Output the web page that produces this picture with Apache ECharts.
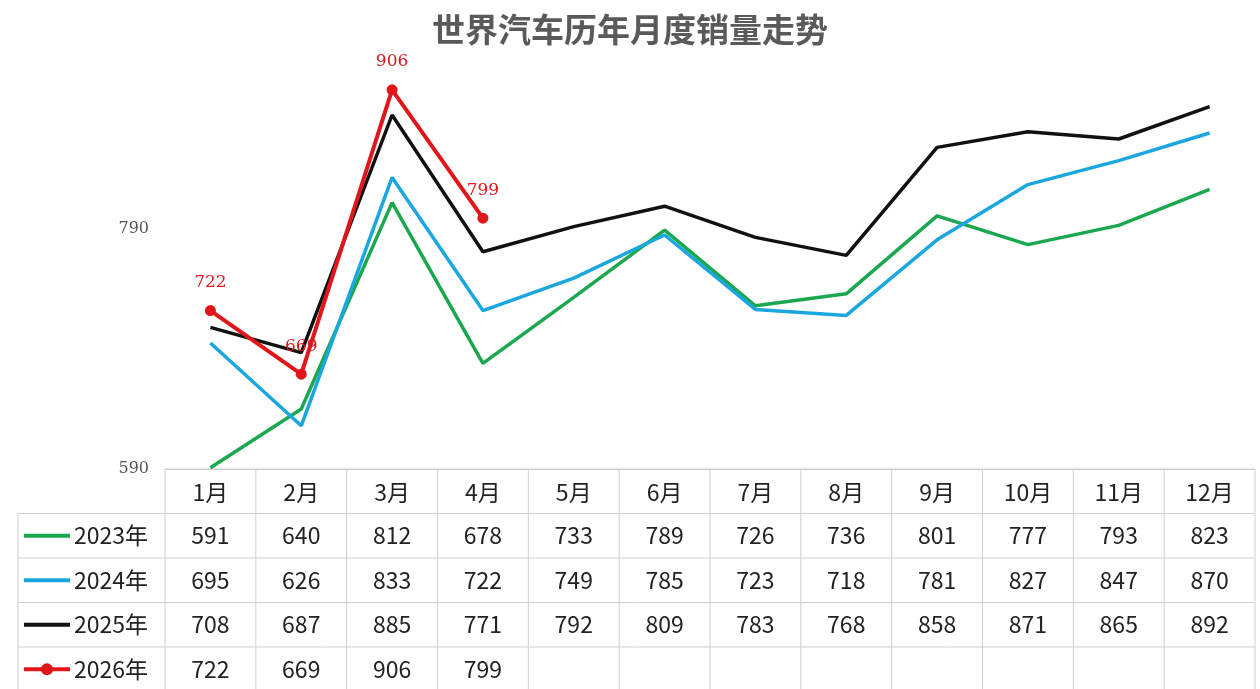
<!DOCTYPE html>
<html><head><meta charset="utf-8">
<script src="https://cdn.jsdelivr.net/npm/echarts@6/dist/echarts.min.js"></script>
<style>html,body{margin:0;background:#fff}#c{width:1260px;height:689px}</style>
</head><body><div id="c"></div>
<script>
var months = ['1月','2月','3月','4月','5月','6月','7月','8月','9月','10月','11月','12月'];
var s2023 = [591,640,812,678,733,789,726,736,801,777,793,823];
var s2024 = [695,626,833,722,749,785,723,718,781,827,847,870];
var s2025 = [708,687,885,771,792,809,783,768,858,871,865,892];
var s2026 = [722,669,906,799];
var names = ['2023年','2024年','2025年','2026年'];
var colors = ['#1aa84f','#1aa7e0','#111111','#e0161b'];

var chart = echarts.init(document.getElementById('c'));
var font = '"Noto Sans CJK SC", sans-serif';
var allData = [s2023, s2024, s2025, s2026];
var series = allData.map(function (d, i) {
    var red = i === 3;
    return {
        name: names[i], type: 'line', data: d,
        symbol: red ? 'circle' : 'none', symbolSize: 11,
        lineStyle: {width: red ? 4 : 3.5, color: colors[i]},
        itemStyle: {color: colors[i]},
        label: red ? {show: true, position: 'top', distance: 14, color: colors[i],
            fontFamily: 'DejaVu Serif', fontSize: 17} : {show: false},
        z: red ? 5 : 2
    };
});
var option = {
    animation: false,
    title: {text: '世界汽车历年月度销量走势', left: 'center', top: 8,
        textStyle: {fontFamily: font, fontSize: 33, fontWeight: 'bold', color: '#5a5a5a'}},
    grid: {left: 165, right: 5, top: 37, bottom: 220},
    xAxis: {type: 'category', data: months, boundaryGap: true,
        axisLine: {lineStyle: {color: '#ccc'}}, axisTick: {show: false},
        axisLabel: {color: '#222', fontSize: 23, fontFamily: font, margin: 12}},
    yAxis: {type: 'value', min: 590, max: 950, interval: 200,
        splitLine: {show: false}, axisLine: {show: false}, axisTick: {show: false},
        axisLabel: {color: '#555', fontFamily: 'DejaVu Serif', fontSize: 16, margin: 16,
            showMaxLabel: false}},
    series: series
};
chart.setOption(option);

// data table under the plot
var g = [];
var top0 = 469, rowH = 44.5, left0 = 18, right0 = 1255;
var colW = (right0 - 165) / 12;
for (var r = 0; r <= 5; r++) {
    var y = top0 + r * rowH;
    g.push({type: 'line', shape: {x1: r === 0 ? 165 : left0, y1: y, x2: right0, y2: y},
        style: {stroke: '#d0d0d0', lineWidth: 1}});
}
for (var c = 0; c <= 12; c++) {
    var x = 165 + c * colW;
    g.push({type: 'line', shape: {x1: x, y1: top0, x2: x, y2: top0 + 5 * rowH},
        style: {stroke: '#d0d0d0', lineWidth: 1}});
}
g.push({type: 'line', shape: {x1: left0, y1: top0 + rowH, x2: left0, y2: top0 + 5 * rowH},
    style: {stroke: '#d0d0d0', lineWidth: 1}});
allData.forEach(function (d, i) {
    var cy = top0 + (i + 1.5) * rowH;
    g.push({type: 'line', shape: {x1: 24, y1: cy, x2: 70, y2: cy},
        style: {stroke: colors[i], lineWidth: 4}});
    if (i === 3) g.push({type: 'circle', shape: {cx: 47, cy: cy, r: 6}, style: {fill: colors[i]}});
    g.push({type: 'text', x: 74, y: cy, style: {text: names[i], fill: '#222', fontSize: 23,
        fontFamily: font, verticalAlign: 'middle'}});
    d.forEach(function (v, j) {
        var px = chart.convertToPixel({xAxisIndex: 0}, months[j]);
        g.push({type: 'text', x: px, y: cy, style: {text: String(v), fill: '#222', fontSize: 23,
            fontFamily: font, align: 'center', verticalAlign: 'middle'}});
    });
});
chart.setOption({graphic: g});
</script></body></html>
